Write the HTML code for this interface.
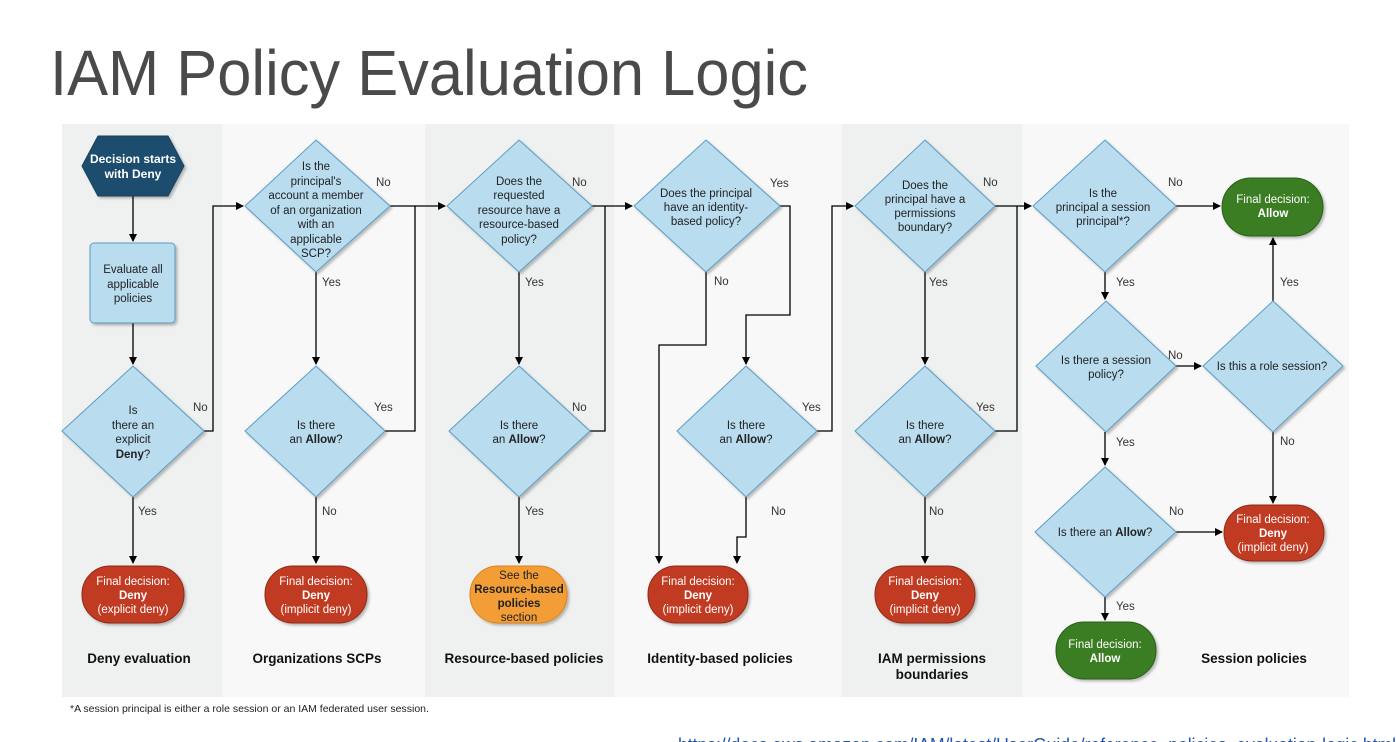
<!DOCTYPE html>
<html><head><meta charset="utf-8"><style>
html,body{margin:0;padding:0;background:#fff;width:1396px;height:742px;overflow:hidden}
svg{display:block}
</style></head><body>
<svg width="1396" height="742" viewBox="0 0 1396 742" xmlns="http://www.w3.org/2000/svg" font-family="Liberation Sans, Arial, sans-serif">
<defs>
<marker id="a" markerWidth="8" markerHeight="8" refX="7" refY="4" orient="auto" markerUnits="userSpaceOnUse"><path d="M0,0 L8,4 L0,8 Z" fill="#000"/></marker>
<filter id="sh" x="-10%" y="-10%" width="130%" height="130%"><feDropShadow dx="2" dy="2" stdDeviation="1.2" flood-color="#000" flood-opacity="0.25"/></filter>
</defs>
<text x="50" y="95" font-size="64" fill="#4a4a4a" textLength="758" lengthAdjust="spacingAndGlyphs">IAM Policy Evaluation Logic</text>

<rect x="62" y="124" width="160" height="573" fill="#eff1f0"/>
<rect x="222" y="124" width="203" height="573" fill="#f8f8f8"/>
<rect x="425" y="124" width="189" height="573" fill="#eff1f0"/>
<rect x="614" y="124" width="228" height="573" fill="#f8f8f8"/>
<rect x="842" y="124" width="180" height="573" fill="#eff1f0"/>
<rect x="1022" y="124" width="327" height="573" fill="#f8f8f8"/>

<g fill="none" stroke="#000" stroke-width="1.3">
<path d="M133,196 V241" marker-end="url(#a)"/>
<path d="M133,323 V364" marker-end="url(#a)"/>
<path d="M133,497 V563" marker-end="url(#a)"/>
<path d="M204,431 H213 V206 H243" marker-end="url(#a)"/>
<path d="M316,272 V364" marker-end="url(#a)"/>
<path d="M316,497 V563" marker-end="url(#a)"/>
<path d="M385,431 H415 V206"/>
<path d="M390,206 H445" marker-end="url(#a)"/>
<path d="M519,272 V364" marker-end="url(#a)"/>
<path d="M519,497 V563" marker-end="url(#a)"/>
<path d="M590,431 H605 V206"/>
<path d="M592,206 H632" marker-end="url(#a)"/>
<path d="M730,206 H790 V315 H746 V364" marker-end="url(#a)"/>
<path d="M706,272 V345 H659 V563" marker-end="url(#a)"/>
<path d="M746,497 V537 H737 V563" marker-end="url(#a)"/>
<path d="M817,431 H832 V206 H853" marker-end="url(#a)"/>
<path d="M925,272 V364" marker-end="url(#a)"/>
<path d="M925,497 V563" marker-end="url(#a)"/>
<path d="M995,431 H1017 V206"/>
<path d="M995,206 H1031" marker-end="url(#a)"/>
<path d="M1176,206 H1220" marker-end="url(#a)"/>
<path d="M1105,272 V299" marker-end="url(#a)"/>
<path d="M1176,366 H1201" marker-end="url(#a)"/>
<path d="M1273,301 V238" marker-end="url(#a)"/>
<path d="M1273,432 V503" marker-end="url(#a)"/>
<path d="M1105,432 V465" marker-end="url(#a)"/>
<path d="M1176,532 H1222" marker-end="url(#a)"/>
<path d="M1105,597 V620" marker-end="url(#a)"/>
</g>

<g filter="url(#sh)">
<path d="M98,136 H168 L184,166 L168,196 H98 L82,166 Z" fill="#1f4e6e" stroke="#1a3f5a"/>
<rect x="90" y="243" width="85" height="80" rx="4" fill="#b9dcef" stroke="#5b9cc4"/>
<g fill="#b9dcef" stroke="#5b9cc4" stroke-width="1">
<path d="M133,366 L204,431 L133,497 L62,431 Z"/>
<path d="M316,140 L390,206 L316,272 L245,206 Z"/>
<path d="M316,366 L385,431 L316,497 L245,431 Z"/>
<path d="M519,140 L592,206 L519,272 L447,206 Z"/>
<path d="M519,366 L590,431 L519,497 L449,431 Z"/>
<path d="M706,140 L780,206 L706,272 L634,206 Z"/>
<path d="M746,366 L817,431 L746,497 L677,431 Z"/>
<path d="M925,140 L995,206 L925,272 L855,206 Z"/>
<path d="M925,366 L995,431 L925,497 L855,431 Z"/>
<path d="M1105,140 L1176,206 L1105,272 L1033,206 Z"/>
<path d="M1106,301 L1176,366 L1106,432 L1036,366 Z"/>
<path d="M1273,301 L1343,366 L1273,432 L1203,366 Z"/>
<path d="M1105,467 L1176,532 L1105,597 L1035,532 Z"/>
</g>
<g fill="#c13b22" stroke="#8e2a17">
<rect x="82" y="566" width="102" height="57" rx="28"/>
<rect x="265" y="566" width="102" height="57" rx="28"/>
<rect x="648" y="566" width="100" height="57" rx="28"/>
<rect x="875" y="566" width="100" height="57" rx="28"/>
<rect x="1224" y="505" width="100" height="56" rx="28"/>
</g>
<rect x="470" y="566" width="97" height="57" rx="28" fill="#f29d35" stroke="#e08020"/>
<g fill="#3b7d23" stroke="#2a5e18">
<rect x="1222" y="178" width="101" height="58" rx="29"/>
<rect x="1056" y="622" width="100" height="57" rx="28"/>
</g>
</g>

<g font-size="11.5" fill="#222" text-anchor="middle">
<text fill="#fff" font-weight="bold" font-size="12"><tspan x="133" y="163">Decision starts</tspan><tspan x="133" y="178">with Deny</tspan></text>
<text><tspan x="133" y="273">Evaluate all</tspan><tspan x="133" y="288">applicable</tspan><tspan x="133" y="302">policies</tspan></text>
<text><tspan x="133" y="414">Is</tspan><tspan x="133" y="429">there an</tspan><tspan x="133" y="443">explicit</tspan><tspan x="133" y="458" font-weight="bold">Deny</tspan><tspan>?</tspan></text>
<text><tspan x="316" y="170">Is the</tspan><tspan x="316" y="185">principal's</tspan><tspan x="316" y="199">account a member</tspan><tspan x="316" y="214">of an organization</tspan><tspan x="316" y="228">with an</tspan><tspan x="316" y="243">applicable</tspan><tspan x="316" y="257">SCP?</tspan></text>
<text><tspan x="316" y="429">Is there</tspan><tspan x="316" y="443">an <tspan font-weight="bold">Allow</tspan>?</tspan></text>
<text><tspan x="519" y="185">Does the</tspan><tspan x="519" y="199">requested</tspan><tspan x="519" y="214">resource have a</tspan><tspan x="519" y="228">resource-based</tspan><tspan x="519" y="243">policy?</tspan></text>
<text><tspan x="519" y="429">Is there</tspan><tspan x="519" y="443">an <tspan font-weight="bold">Allow</tspan>?</tspan></text>
<text><tspan x="706" y="197">Does the principal</tspan><tspan x="706" y="211">have an identity-</tspan><tspan x="706" y="225">based policy?</tspan></text>
<text><tspan x="746" y="429">Is there</tspan><tspan x="746" y="443">an <tspan font-weight="bold">Allow</tspan>?</tspan></text>
<text><tspan x="925" y="189">Does the</tspan><tspan x="925" y="203">principal have a</tspan><tspan x="925" y="217">permissions</tspan><tspan x="925" y="231">boundary?</tspan></text>
<text><tspan x="925" y="429">Is there</tspan><tspan x="925" y="443">an <tspan font-weight="bold">Allow</tspan>?</tspan></text>
<text><tspan x="1103" y="197">Is the</tspan><tspan x="1103" y="211">principal a session</tspan><tspan x="1103" y="225">principal*?</tspan></text>
<text><tspan x="1106" y="364">Is there a session</tspan><tspan x="1106" y="378">policy?</tspan></text>
<text x="1272" y="370">Is this a role session?</text>
<text x="1105" y="536">Is there an <tspan font-weight="bold">Allow</tspan>?</text>
</g>
<g font-size="11.5" fill="#fff" text-anchor="middle">
<text><tspan x="133" y="585">Final decision:</tspan><tspan x="133" y="599" font-weight="bold">Deny</tspan><tspan x="133" y="613">(explicit deny)</tspan></text>
<text><tspan x="316" y="585">Final decision:</tspan><tspan x="316" y="599" font-weight="bold">Deny</tspan><tspan x="316" y="613">(implicit deny)</tspan></text>
<text><tspan x="698" y="585">Final decision:</tspan><tspan x="698" y="599" font-weight="bold">Deny</tspan><tspan x="698" y="613">(implicit deny)</tspan></text>
<text><tspan x="925" y="585">Final decision:</tspan><tspan x="925" y="599" font-weight="bold">Deny</tspan><tspan x="925" y="613">(implicit deny)</tspan></text>
<text><tspan x="1273" y="523">Final decision:</tspan><tspan x="1273" y="537" font-weight="bold">Deny</tspan><tspan x="1273" y="551">(implicit deny)</tspan></text>
<text><tspan x="1273" y="203">Final decision:</tspan><tspan x="1273" y="217" font-weight="bold">Allow</tspan></text>
<text><tspan x="1105" y="648">Final decision:</tspan><tspan x="1105" y="662" font-weight="bold">Allow</tspan></text>
<text fill="#222"><tspan x="519" y="579">See the</tspan><tspan x="519" y="593" font-weight="bold">Resource-based</tspan><tspan x="519" y="607" font-weight="bold">policies</tspan><tspan x="519" y="621">section</tspan></text>
</g>

<g font-size="11.5" fill="#333">
<text x="193" y="411">No</text>
<text x="138" y="515">Yes</text>
<text x="376" y="186">No</text>
<text x="322" y="286">Yes</text>
<text x="374" y="411">Yes</text>
<text x="322" y="515">No</text>
<text x="572" y="186">No</text>
<text x="525" y="286">Yes</text>
<text x="572" y="411">No</text>
<text x="525" y="515">Yes</text>
<text x="770" y="187">Yes</text>
<text x="714" y="285">No</text>
<text x="802" y="411">Yes</text>
<text x="771" y="515">No</text>
<text x="983" y="186">No</text>
<text x="929" y="286">Yes</text>
<text x="976" y="411">Yes</text>
<text x="929" y="515">No</text>
<text x="1168" y="186">No</text>
<text x="1116" y="286">Yes</text>
<text x="1168" y="359">No</text>
<text x="1280" y="286">Yes</text>
<text x="1116" y="446">Yes</text>
<text x="1280" y="445">No</text>
<text x="1169" y="515">No</text>
<text x="1116" y="610">Yes</text>
</g>

<g font-size="13.5" font-weight="bold" fill="#111" text-anchor="middle">
<text x="139" y="663">Deny evaluation</text>
<text x="317" y="663">Organizations SCPs</text>
<text x="524" y="663">Resource-based policies</text>
<text x="720" y="663">Identity-based policies</text>
<text x="932" y="663">IAM permissions</text>
<text x="932" y="679">boundaries</text>
<text x="1254" y="663">Session policies</text>
</g>
<text x="70" y="712" font-size="10.5" fill="#222">*A session principal is either a role session or an IAM federated user session.</text>
<text x="678" y="751" font-size="18" fill="#2255aa" textLength="718" lengthAdjust="spacingAndGlyphs">https://docs.aws.amazon.com/IAM/latest/UserGuide/reference_policies_evaluation-logic.html</text>
</svg>
</body></html>
